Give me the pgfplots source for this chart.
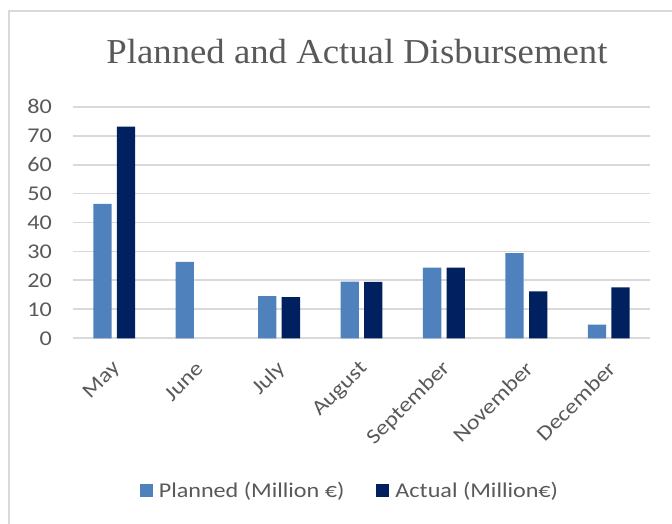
\documentclass[border=0pt]{standalone}
\usepackage{pgfplots}
\pgfplotsset{compat=1.18}
\usepackage{fontspec}
\setmainfont{Liberation Serif}[FakeStretch=1.05]
\newfontfamily\calib[FakeStretch=1.15]{Carlito}
\definecolor{planned}{HTML}{4F81BD}
\definecolor{actual}{HTML}{002060}
\definecolor{gridgray}{HTML}{D9D9D9}
\definecolor{txtgray}{HTML}{595959}
\begin{document}
\begin{tikzpicture}
\path[use as bounding box] (0pt,0pt) rectangle (672pt,524pt);
\draw[gridgray, line width=1.8pt] (9pt,-2pt) -- (9pt,513pt) -- (674pt,513pt);
\node[anchor=base, text=txtgray, font=\fontsize{35}{40}\selectfont] at (357pt,460.7pt) {Planned and Actual Disbursement};
\begin{axis}[
  at={(73pt,185.7pt)}, anchor=south west,
  scale only axis, width=577pt, height=231.6pt,
  ybar=5.3pt, bar width=18.3pt,
  xmin=-0.5, xmax=6.5, ymin=0, ymax=80,
  ytick={0,10,...,80},
  xtick={0,...,6},
  xticklabels={May,June,July,August,September,November,December},
  ymajorgrids, grid style={draw=gridgray, line width=1.8pt},
  axis line style={draw=none},
  major tick length=0pt, tick style={draw=none},
  tick label style={text=txtgray, font=\calib\fontsize{21}{24}\selectfont},
  /pgf/number format/assume math mode=true,
  yticklabel style={anchor=east, inner sep=0pt, xshift=-21pt},
  xticklabel style={anchor=east, inner sep=0pt, xshift=3pt, yshift=-27pt, rotate=45},
  legend style={at={(0.48,-0.659)}, anchor=center, draw=none, fill=none,
    legend columns=2, font=\calib\fontsize{21}{24}\selectfont, text=txtgray,
    /tikz/every even column/.append style={column sep=30pt}},
  legend image code/.code={\fill[#1] (0pt,-6.5pt) rectangle (13pt,6.5pt); \path (17pt,0pt);},
]
\addplot[fill=planned, draw=none] coordinates {(0,46.4) (1,26.4) (2,14.6) (3,19.6) (4,24.4) (5,29.4) (6,4.7)};
\addplot[fill=actual, draw=none] coordinates {(0,73.1) (2,14.2) (3,19.5) (4,24.4) (5,16.2) (6,17.6)};
\legend{Planned (Million €), Actual (Million€)}
\end{axis}
\end{tikzpicture}
\end{document}
